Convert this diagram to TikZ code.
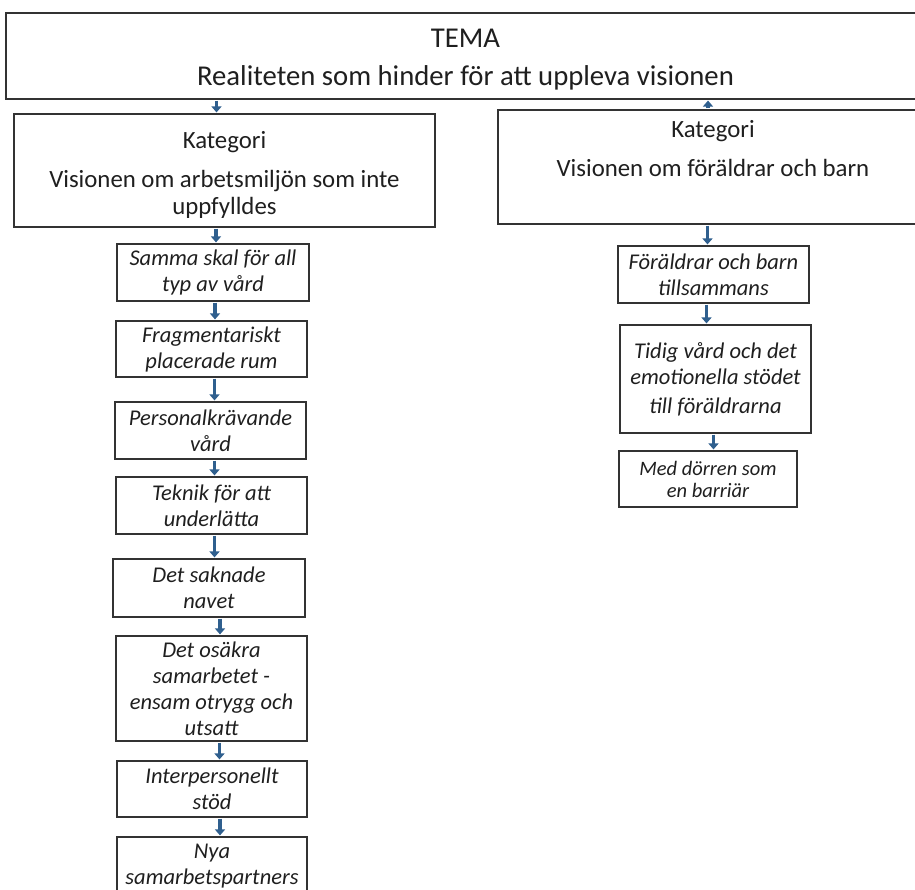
\documentclass[tikz,border=0pt]{standalone}
\usepackage{fontspec}
\setmainfont{Carlito}
\usetikzlibrary{arrows.meta,calc}
\definecolor{boxline}{HTML}{333333}
\definecolor{arrblue}{HTML}{2F5F8E}
\newcommand\temafont{\fontsize{28.7}{38}\selectfont}
\newcommand\catfont{\fontsize{24.8}{27}\selectfont}
\newcommand\subfont{\fontsize{22.5}{26}\selectfont\itshape}
\newcommand\smallsubfont{\fontsize{20.5}{22}\selectfont\itshape}
\begin{document}
\begin{tikzpicture}[x=1pt,y=-1pt,
  box/.style={draw=boxline, line width=2.2pt, fill=white, inner sep=0pt, align=center, text=black!88},
  arr/.style={draw=arrblue, line width=3.2pt, -{Triangle[width=10pt,length=6pt]}, shorten >=0.5pt, shorten <=0.5pt}]
\useasboundingbox (0,0) rectangle (915,889);
\clip (0,0) rectangle (915,889);
\fill[white] (0,0) rectangle (915,889);

\node[box, minimum width=919, minimum height=86, font=\temafont] (tema) at (465.5,56)
  {\rule{0pt}{26pt}TEMA\\Realiteten som hinder för att uppleva visionen};

\node[box, minimum width=421, minimum height=113, font=\catfont] (lcat) at (224.5,170.5)
  {\rule{0pt}{26pt}Kategori\\[12pt]Visionen om arbetsmiljön som inte\\uppfylldes};
\node[box, minimum width=430, minimum height=114, font=\catfont] (rcat) at (713,167)
  {Kategori\\[12pt]Visionen om föräldrar och barn\\[11pt]~};

% left column
\node[box, minimum width=192, minimum height=57, font=\subfont] (b1) at (213,272.5) {Samma skal för all\\typ av vård};
\node[box, minimum width=191, minimum height=56, font=\subfont] (b2) at (211.5,349) {Fragmentariskt\\placerade rum};
\node[box, minimum width=191, minimum height=57, font=\subfont] (b3) at (210.5,430.5) {Personalkrävande\\vård};
\node[box, minimum width=191, minimum height=57, font=\subfont] (b4) at (211.5,505.5) {Teknik för att\\underlätta};
\node[box, minimum width=192, minimum height=58, font=\subfont] (b5) at (209,588) {Det saknade\\navet};
\node[box, minimum width=191, minimum height=105, font=\subfont] (b6) at (211.5,688.5) {Det osäkra\\samarbetet -\\ensam otrygg och\\utsatt};
\node[box, minimum width=190, minimum height=56, font=\subfont] (b7) at (212,789) {Interpersonellt\\stöd};
\node[box, minimum width=190, minimum height=58, font=\subfont] (b8) at (212,866) {Nya\\samarbetspartners};

% right column
\node[box, minimum width=191, minimum height=57, font=\subfont] (r1) at (713.5,274.5) {Föräldrar och barn\\tillsammans};
\node[box, minimum width=191, minimum height=108, font=\subfont] (r2) at (715.5,379) {Tidig vård och det\\emotionella stödet\\[3pt]till föräldrarna};
\node[box, minimum width=178, minimum height=56, font=\smallsubfont] (r3) at (708,479) {Med dörren som\\en barriär};

% arrows
\draw[arr] ([xshift=-8]lcat.north |- tema.south) -- ([xshift=-8]lcat.north);
\draw[arr] ([xshift=-5]rcat.north) -- ([xshift=-5]rcat.north |- tema.south);
\draw[arr] ([xshift=3]lcat.south -| b1.north) -- ([xshift=3]b1.north);
\draw[arr] ([xshift=2]b1.south) -- ([xshift=2]b1.south |- b2.north);
\draw[arr] ([xshift=3]b2.south) -- ([xshift=3]b2.south |- b3.north);
\draw[arr] ([xshift=4]b3.south) -- ([xshift=4]b3.south |- b4.north);
\draw[arr] ([xshift=3]b4.south) -- ([xshift=3]b4.south |- b5.north);
\draw[arr] ([xshift=11]b5.south) -- ([xshift=11]b5.south |- b6.north);
\draw[arr] ([xshift=8]b6.south) -- ([xshift=8]b6.south |- b7.north);
\draw[arr] ([xshift=8]b7.south) -- ([xshift=8]b7.south |- b8.north);
\draw[arr] ([xshift=-6]rcat.south -| r1.north) -- ([xshift=-6]r1.north);
\draw[arr] ([xshift=-7]r1.south) -- ([xshift=-7]r1.south |- r2.north);
\draw[arr] ([xshift=-2]r2.south) -- ([xshift=-2]r2.south |- r3.north);
\end{tikzpicture}
\end{document}
